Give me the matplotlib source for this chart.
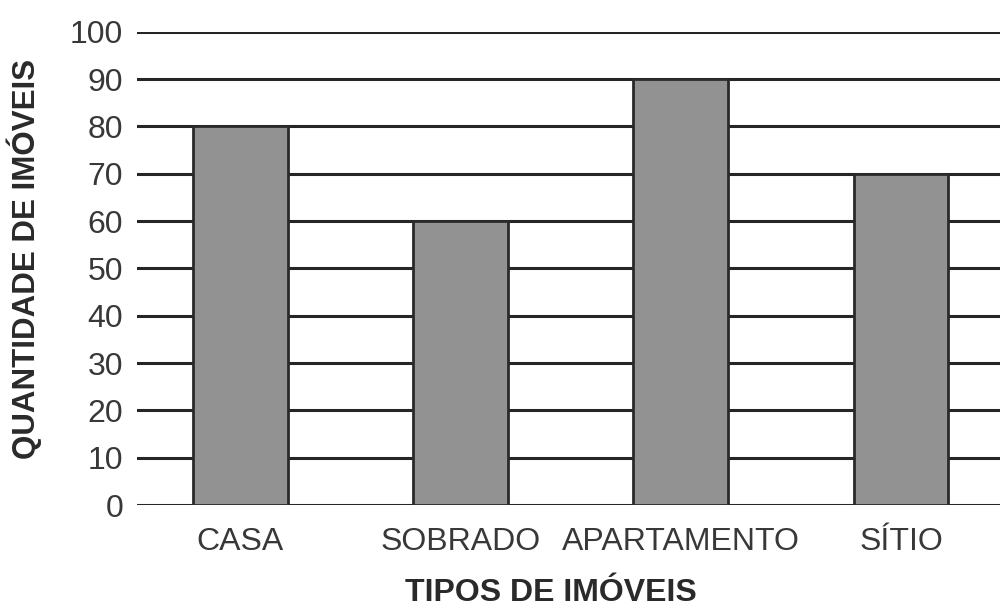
import matplotlib
matplotlib.use("Agg")
import matplotlib.pyplot as plt

# chart data
categorias = ["CASA", "SOBRADO", "APARTAMENTO", "SÍTIO"]
quantidades = [80, 60, 90, 70]
y_ticks = [0, 10, 20, 30, 40, 50, 60, 70, 80, 90, 100]

plt.rcParams["font.family"] = ["Liberation Sans", "DejaVu Sans"]

fig = plt.figure(figsize=(10, 6.1), dpi=100)
ax = fig.add_axes([0.137, 0.172, 0.863, 0.776])

ax.bar(range(len(categorias)), quantidades, width=0.43,
       color="#929292", edgecolor="#2a2a2a", linewidth=2, zorder=3)

ax.set_ylim(0, 100)
ax.set_xlim(-0.47, 3.45)
ax.set_yticks(y_ticks)
ax.set_xticks(range(len(categorias)))
ax.set_xticklabels(categorias)
ax.yaxis.grid(True, color="#262626", linewidth=2.2, zorder=0)
ax.set_axisbelow(True)
for s in ax.spines.values():
    s.set_visible(False)
ax.tick_params(axis="y", length=0, pad=10, labelsize=23, labelcolor="#383838")
ax.tick_params(axis="x", length=0, pad=16, labelsize=23, labelcolor="#383838")

ax.set_ylabel("QUANTIDADE DE IMÓVEIS", fontsize=22.5, fontweight="bold",
              color="#2a2a2a")
ax.yaxis.set_label_coords(-0.11, 0.52)
ax.set_xlabel("TIPOS DE IMÓVEIS", fontsize=23, fontweight="bold",
              color="#2a2a2a")
ax.xaxis.set_label_coords(0.48, -0.155)

fig.savefig("out.png", dpi=100)
